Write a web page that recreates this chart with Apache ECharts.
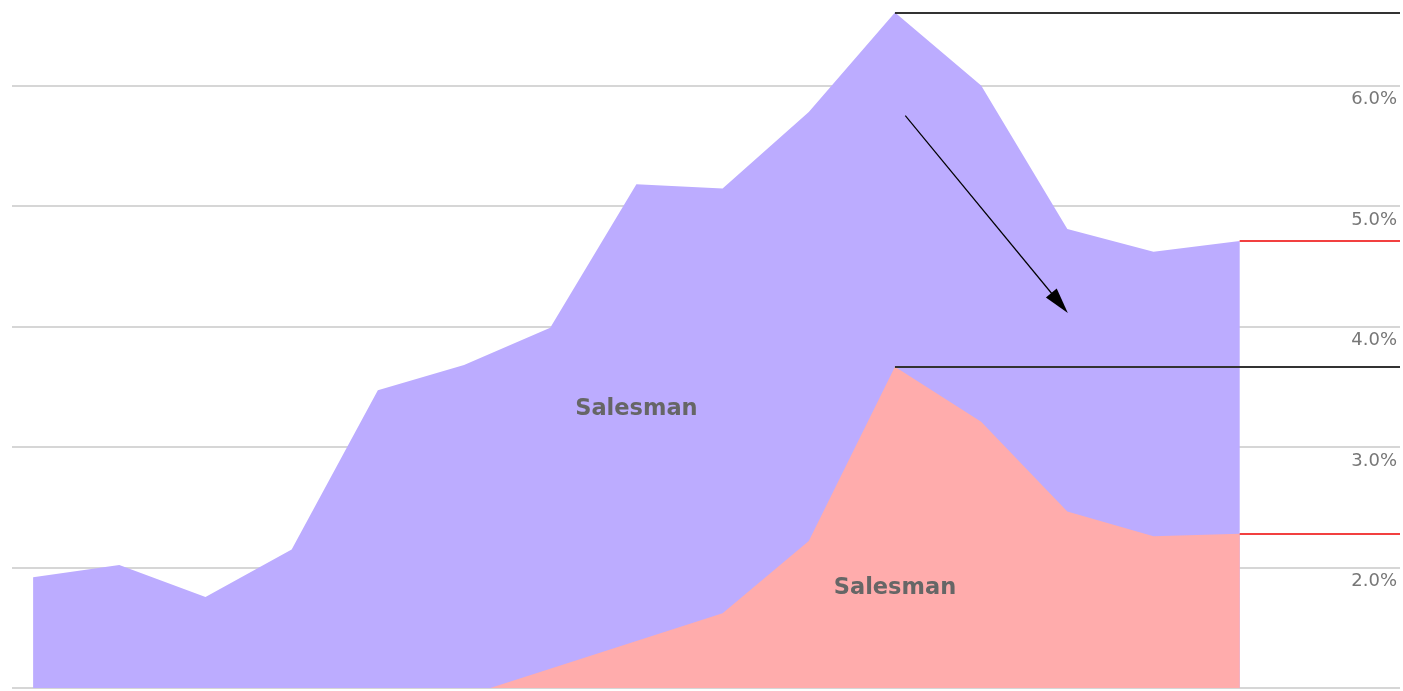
<!DOCTYPE html>
<html>
<head>
<meta charset="utf-8">
<script src="https://cdn.jsdelivr.net/npm/echarts@6/dist/echarts.min.js"></script>
<style>
  html, body { margin: 0; padding: 0; background: #fff; }
  #chart { width: 1403px; height: 691px; }
</style>
</head>
<body>
<div id="chart"></div>
<script>
// ── Data ─────────────────────────────────────────────────────────────────────
// 15 periods, no x labels in the original; values in percent.
const periods = [0, 1, 2, 3, 4, 5, 6, 7, 8, 9, 10, 11, 12, 13, 14];
const purpleValues = [1.92, 2.02, 1.755, 2.15, 3.47, 3.68, 3.99, 5.18, 5.145, 5.78, 6.605, 6.0, 4.81, 4.62, 4.71];
// first points sit below the visible 1% floor
const pinkValues = [null, null, null, null, null, 0.93, 1.16, 1.39, 1.62, 2.22, 3.665, 3.21, 2.465, 2.26, 2.28];
const yTicks = [1, 2, 3, 4, 5, 6, 7];

// annotation points, in data units
const seriesName = 'Salesman';
const purpleLabelAt = [7, 3.31];
const pinkLabelAt = [10, 1.83];
const arrowFrom = [10.12, 5.75];
const arrowTo = [11.91, 4.195]; // centre of the arrow head
const peakIndex = 10;
const lastIndex = 14;
const xMin = -0.245;
const xMax = 15.86;

// ── Chart ────────────────────────────────────────────────────────────────────
const pairs = (vals) => periods.map((p, i) => [p, vals[i]]);

const refLine = (idx, value, color) => [
  { coord: [idx, value], lineStyle: { color: color } },
  { coord: [xMax, value] },
];

const labelStyle = {
  show: true,
  position: 'inside',
  formatter: seriesName,
  color: '#666',
  fontFamily: 'DejaVu Sans',
  fontWeight: 'bold',
  fontSize: 22.5,
};

const chart = echarts.init(document.getElementById('chart'), null, { renderer: 'canvas' });

chart.setOption({
  animation: false,
  grid: {
    left: 12, right: 3, top: -35, bottom: 3,
    containLabel: false,
    outerBoundsMode: 'none',
  },
  xAxis: {
    type: 'value',
    min: xMin,
    max: xMax,
    show: false,
    splitLine: { show: false },
  },
  yAxis: {
    type: 'value',
    position: 'right',
    min: yTicks[0],
    max: yTicks[yTicks.length - 1],
    interval: 1,
    axisLine: { show: false },
    axisTick: { show: false },
    splitLine: { lineStyle: { color: '#d6d6d6', width: 2 } },
    axisLabel: {
      inside: true,
      margin: 3,
      verticalAlign: 'top',
      padding: [5, 0, 0, 0],
      color: '#777',
      fontFamily: 'DejaVu Sans',
      fontSize: 18,
      formatter: (v) => v.toFixed(1) + '%',
    },
  },
  series: [
    {
      name: seriesName,
      type: 'line',
      data: pairs(purpleValues),
      symbol: 'none',
      lineStyle: { width: 0 },
      areaStyle: { color: '#bcacff', opacity: 1, origin: 'start' },
      markPoint: {
        symbol: 'rect',
        symbolSize: 1,
        itemStyle: { color: 'rgba(0,0,0,0)' },
        label: labelStyle,
        data: [{ coord: purpleLabelAt }],
      },
    },
    {
      name: seriesName,
      type: 'line',
      data: pairs(pinkValues),
      symbol: 'none',
      lineStyle: { width: 0 },
      areaStyle: { color: '#ffacac', opacity: 1, origin: 'start' },
      markPoint: {
        symbol: 'rect',
        symbolSize: 1,
        itemStyle: { color: 'rgba(0,0,0,0)' },
        label: labelStyle,
        data: [{ coord: pinkLabelAt }],
      },
      markLine: {
        silent: true,
        symbol: 'none',
        label: { show: false },
        lineStyle: { type: 'solid', width: 2, color: '#333' },
        data: [
          refLine(peakIndex, purpleValues[peakIndex], '#333'),
          refLine(peakIndex, pinkValues[peakIndex], '#333'),
          refLine(lastIndex, purpleValues[lastIndex], '#f24040'),
          refLine(lastIndex, pinkValues[lastIndex], '#f24040'),
          [
            { coord: arrowFrom, symbol: 'none', lineStyle: { color: '#000', width: 1.2 } },
            { coord: arrowTo, symbol: 'triangle', symbolSize: [14, 26] },
          ],
        ],
      },
    },
  ],
});
</script>
</body>
</html>
